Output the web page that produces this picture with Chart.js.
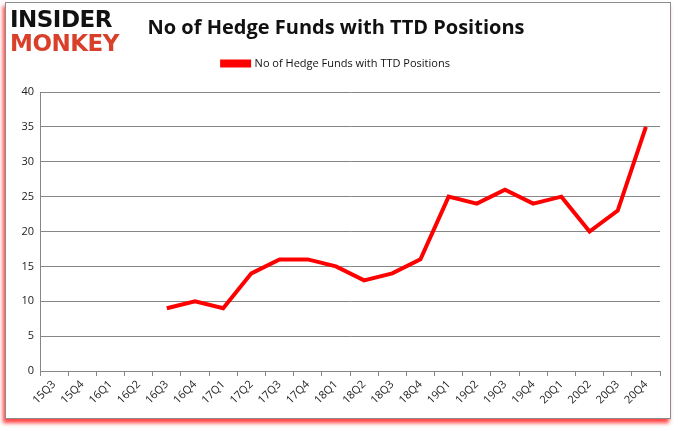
<!DOCTYPE html>
<html>
<head>
<meta charset="utf-8">
<script src="https://cdn.jsdelivr.net/npm/chart.js@4.4.0/dist/chart.umd.min.js"></script>
<style>
    html, body { margin: 0; padding: 0; background: #fff; }
    body { width: 678px; height: 431px; position: relative; overflow: hidden; }
    #frame {
        position: absolute; left: 5px; top: 2px; width: 664px; height: 415px;
        border: 1px solid #8c8c8c; background: #fff;
        box-shadow: -2px 4px 4px rgba(255, 0, 0, 0.75);
    }
    #logo { position: absolute; left: 10px; top: 7px; font-family: 'DejaVu Sans', sans-serif;
        font-weight: bold; line-height: 24px; font-size: 23px; letter-spacing: -0.5px; }
    #logo .a { color: #111; }
    #logo .b { color: #d9402b; }
    #wrap { position: absolute; left: 0; top: 0; width: 678px; height: 431px; }
</style>
</head>
<body>
<div id="frame"></div>
<div id="wrap"><canvas id="chart" width="678" height="431"></canvas></div>
<div id="logo"><div class="a">INSIDER</div><div class="b">MONKEY</div></div>
<script>
// Hedge fund positions per quarter
const quarters = ['15Q3', '15Q4', '16Q1', '16Q2', '16Q3', '16Q4', '17Q1', '17Q2', '17Q3', '17Q4',
    '18Q1', '18Q2', '18Q3', '18Q4', '19Q1', '19Q2', '19Q3', '19Q4', '20Q1', '20Q2', '20Q3', '20Q4'];
const fundCounts = [null, null, null, null, 9, 10, 9, 14, 16, 16,
    15, 13, 14, 16, 25, 24, 26, 24, 25, 20, 23, 35];
const yTicks = [0, 5, 10, 15, 20, 25, 30, 35, 40];

const seriesName = 'No of Hedge Funds with TTD Positions';
const red = '#ff0000';
const axisGray = '#868686';

Chart.defaults.font.family = "'Open Sans', 'DejaVu Sans', sans-serif";
Chart.defaults.color = '#222';

// push the plot area down below the legend
const legendGap = {
    id: 'legendGap',
    beforeUpdate(chart) {
        const lg = chart.legend;
        if (!lg || lg._gapped) return;
        const fit = lg.fit;
        lg.fit = function () { fit.call(this); this.height += 13; };
        lg._gapped = true;
    }
};

new Chart(document.getElementById('chart'), {
    type: 'line',
    data: {
        labels: quarters,
        datasets: [{
            label: seriesName,
            data: fundCounts,
            borderColor: red,
            backgroundColor: red,
            borderWidth: 4,
            pointRadius: 0,
            tension: 0,
            spanGaps: false,
        }]
    },
    options: {
        responsive: false,
        animation: false,
        devicePixelRatio: 1,
        layout: { padding: { left: 12, right: 18, top: 5, bottom: 6 } },
        plugins: {
            title: {
                display: true,
                text: 'No of Hedge Funds with TTD Positions',
                font: { size: 20, weight: 'bold', family: "'Open Sans', sans-serif" },
                color: '#111',
                padding: { top: 11, bottom: 12 },
            },
            legend: {
                display: true,
                labels: {
                    boxWidth: 27,
                    boxHeight: 4,
                    padding: 6,
                    font: { size: 11 },
                    color: '#111',
                },
            },
            tooltip: { enabled: false },
        },
        scales: {
            y: {
                min: 0,
                max: 40,
                afterBuildTicks: (s) => { s.ticks = yTicks.map(v => ({ value: v })); },
                afterFit: (s) => { s.width = 28; },
                grid: { color: axisGray, drawTicks: false, lineWidth: 1 },
                border: { color: axisGray },
                ticks: { padding: 6, font: { size: 11 }, color: '#222' },
            },
            x: {
                offset: true,
                afterFit: (s) => { s.height = 54; },
                grid: { offset: true, drawOnChartArea: false, color: axisGray, tickLength: 5 },
                border: { color: axisGray },
                ticks: { maxRotation: 45, minRotation: 45, autoSkip: false, font: { size: 11 }, color: '#222', padding: 2 },
            }
        }
    },
    plugins: [legendGap]
});
</script>
</body>
</html>
